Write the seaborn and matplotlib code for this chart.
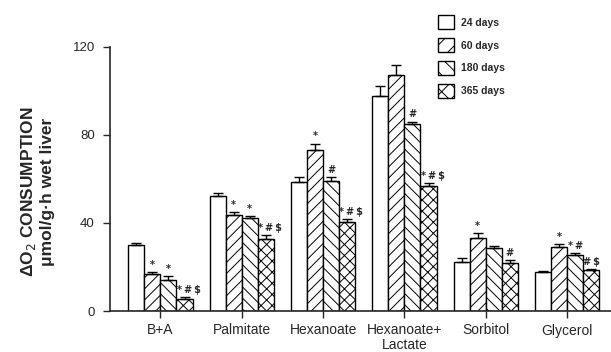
import numpy as np
import pandas as pd
import matplotlib
matplotlib.use("Agg")
import matplotlib.pyplot as plt
import seaborn as sns
from matplotlib.patches import Patch

categories = ["B+A", "Palmitate", "Hexanoate", "Hexanoate+\nLactate", "Sorbitol", "Glycerol"]
groups = ["24 days", "60 days", "180 days", "365 days"]

v24 = [29.8, 52.4, 58.6, 97.7, 22.1, 17.7]
v60 = [17.0, 43.5, 73.2, 107.0, 33.3, 29.1]
v180 = [14.2, 42.0, 58.9, 84.8, 28.5, 25.6]
v365 = [5.6, 32.9, 40.6, 56.7, 21.8, 18.6]

e24 = [0.9, 1.4, 2.3, 4.3, 1.9, 0.4]
e60 = [0.7, 1.3, 2.8, 4.7, 1.9, 1.4]
e180 = [1.8, 1.1, 2.0, 1.2, 1.1, 0.8]
e365 = [0.6, 1.5, 1.2, 1.5, 1.2, 0.5]

n24 = ["", "", "", "", "", ""]
n60 = ["*", "*", "*", "", "*", "*"]
n180 = ["*", "*", "#", "#", "", "*#"]
n365 = ["*#$", "*#$", "*#$", "*#$", "#", "#$"]

yticks = [0, 40, 80, 120]

vals = [v24, v60, v180, v365]
errs = [e24, e60, e180, e365]
notes = [n24, n60, n180, n365]
hatches = ["", "///", "\\\\\\", "xxx"]
leg_hatches = ["", "//", "\\\\", "xx"]

rows = []
for g, vv in zip(groups, vals):
    for c, v in zip(categories, vv):
        rows.append({"cat": c, "group": g, "val": v})
df = pd.DataFrame(rows)

sns.set_theme(style="ticks")
plt.rcParams["font.family"] = ["Liberation Sans", "DejaVu Sans"]
plt.rcParams["hatch.linewidth"] = 0.7
plt.rcParams["hatch.color"] = "#444444"

fig = plt.figure(figsize=(6.11, 3.52), dpi=100)
ax = fig.add_axes([110 / 611, 41 / 352, 1 - 110 / 611, (311 - 46.7) / 352])

sns.barplot(data=df, x="cat", y="val", hue="group", order=categories, hue_order=groups,
            palette=["white"] * 4, edgecolor="black", linewidth=1.0, width=0.79,
            errorbar=None, legend=False, ax=ax)

containers = list(ax.containers)
for gi, cont in enumerate(containers):
    for ci, bar in enumerate(list(cont)):
        bar.set_hatch(hatches[gi])
        bar.set_edgecolor("black")
        x = bar.get_x() + bar.get_width() / 2
        top = bar.get_height()
        err = errs[gi][ci]
        ax.errorbar([x], [top], yerr=[[0], [err]], fmt="none", ecolor="black",
                    elinewidth=1.0, capsize=3.5, capthick=1.0)
        note = notes[gi][ci]
        if note:
            dx = 0.05 if len(note) >= 3 else 0.0
            ax.text(x + dx, top + err + 1.0, "\u2009".join(note), ha="center", va="bottom",
                    fontsize=7, fontweight="bold", family="DejaVu Sans", zorder=5)

ax.set_xlim(-0.62, 5.54)
ax.set_ylim(0, 120)
ax.set_yticks(yticks)
ax.set_yticklabels([str(t) for t in yticks], fontsize=9.5)
ax.tick_params(axis="x", labelsize=10, length=5, width=1, pad=4)
ax.tick_params(axis="y", length=5, width=1, pad=6)
for lab in ax.get_xticklabels():
    lab.set_linespacing(1.05)
ax.set_xlabel("")
ax.set_ylabel("")
sns.despine(ax=ax)
ax.spines["left"].set_linewidth(1.2)
ax.spines["bottom"].set_linewidth(1.2)

fig.text(37 / 611, 1 - 192 / 352, "ΔO$_2$ CONSUMPTION\nμmol/g·h wet liver", rotation=90,
         ha="center", va="center", multialignment="center", fontsize=12.5,
         fontweight="bold", linespacing=1.2)

handles = [Patch(facecolor="white", edgecolor="black", hatch=h, linewidth=1.0) for h in leg_hatches]
fig.legend(handles, groups, loc="upper left", bbox_to_anchor=(433 / 611, 1 - 10 / 352),
           frameon=False, handlelength=1.5, handleheight=1.7,
           labelspacing=0.85, handletextpad=0.7, borderpad=0,
           prop={"weight": "bold", "size": 7.5})

fig.savefig("out.png", dpi=100)
